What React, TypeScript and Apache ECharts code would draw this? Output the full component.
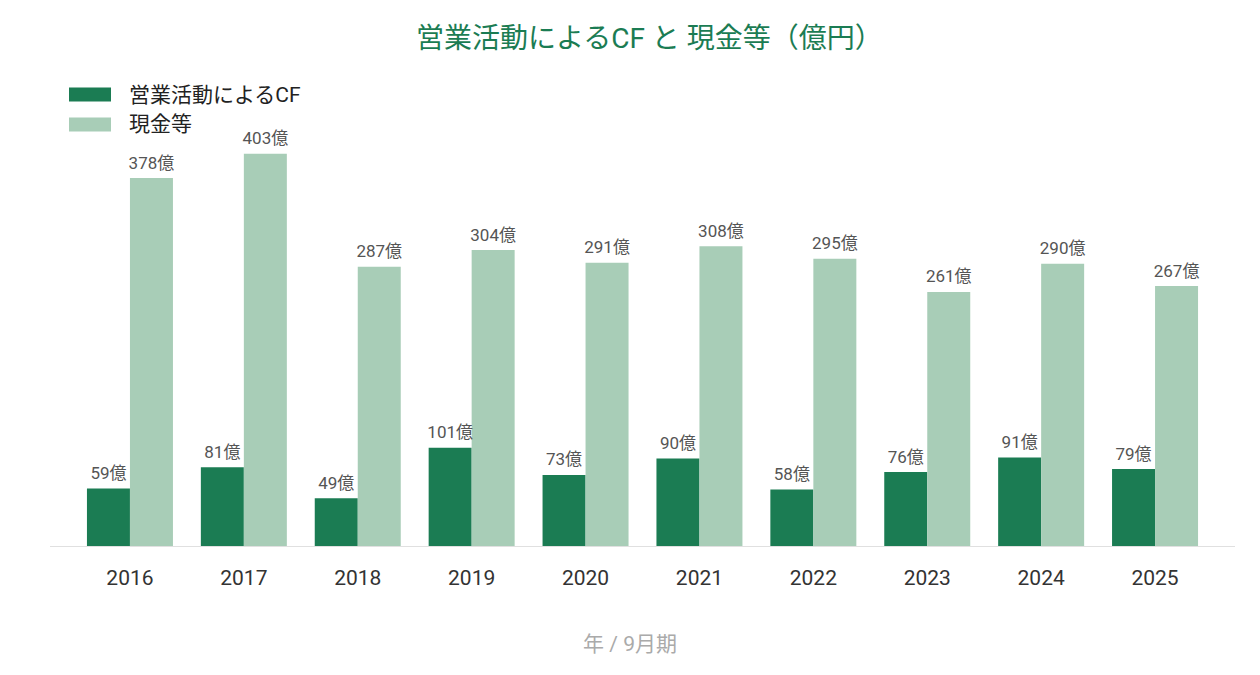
import React, { useEffect, useRef } from "react";
import * as echarts from "echarts";

const years = ["2016", "2017", "2018", "2019", "2020", "2021", "2022", "2023", "2024", "2025"];
const operatingCF = [59, 81, 49, 101, 73, 90, 58, 76, 91, 79];
const cash = [378, 403, 287, 304, 291, 308, 295, 261, 290, 267];

const FONT = "Roboto, 'Noto Sans CJK JP', sans-serif";

export default function App() {
  const ref = useRef<HTMLDivElement>(null);
  useEffect(() => {
    document.body.style.margin = "0";
    const chart = echarts.init(ref.current!, null, { renderer: "svg" });
    const label = {
      show: true,
      position: "top",
      distance: 7,
      color: "#555",
      fontSize: 17,
      fontFamily: FONT,
      formatter: (p: any) => `${p.value}億`,
    };
    chart.setOption({
      animation: false,
      textStyle: { fontFamily: FONT },
      title: [
        {
          text: "営業活動によるCF と 現金等（億円）",
          left: 411,
          top: 19,
          textStyle: { color: "#1b7c53", fontSize: 28, fontWeight: "normal", fontFamily: FONT },
        },
        {
          text: "年 / 9月期",
          left: "center",
          top: 628,
          textStyle: { color: "#aaa", fontSize: 21, fontWeight: "normal", fontFamily: FONT },
        },
      ],
      legend: {
        orient: "vertical",
        left: 64,
        top: 79,
        itemWidth: 42,
        itemHeight: 14,
        itemGap: 9,
        icon: "rect",
        textStyle: { fontSize: 21, color: "#222", fontFamily: FONT, padding: [0, 0, 0, 13] },
      },
      grid: { left: 73, right: 48, top: 108, bottom: 129 },
      xAxis: {
        type: "category",
        data: years,
        axisLine: { show: false },
        axisTick: { show: false },
        axisLabel: { fontSize: 21, color: "#333", margin: 21, fontFamily: FONT },
      },
      yAxis: {
        type: "value",
        min: 0,
        max: 450,
        show: false,
        splitLine: { show: false },
      },
      graphic: [
        {
          type: "line",
          shape: { x1: 50, y1: 546.5, x2: 1235, y2: 546.5 },
          style: { stroke: "#e0e0e0", lineWidth: 1 },
          z: 10,
        },
      ],
      series: [
        {
          name: "営業活動によるCF",
          type: "bar",
          data: operatingCF,
          itemStyle: { color: "#1b7c53" },
          barGap: "0%",
          barCategoryGap: "24.5%",
          label,
        },
        {
          name: "現金等",
          type: "bar",
          data: cash,
          itemStyle: { color: "#a8cdb7" },
          barGap: "0%",
          barCategoryGap: "24.5%",
          label,
        },
      ],
    });
    return () => chart.dispose();
  }, []);
  return <div ref={ref} style={{ width: 1260, height: 675 }} />;
}
